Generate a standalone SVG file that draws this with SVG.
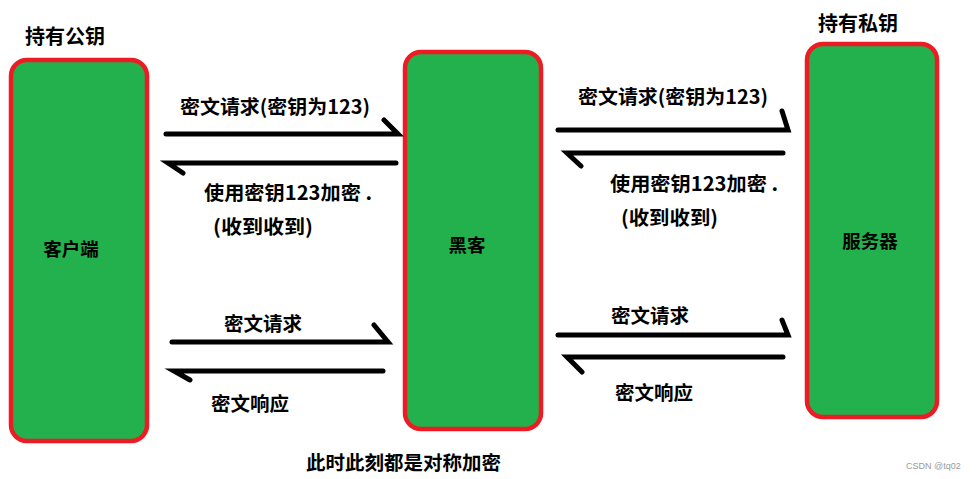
<svg xmlns="http://www.w3.org/2000/svg" width="979" height="479" viewBox="0 0 979 479">
<style>
.box{fill:#22b14c;stroke:#ed1c24;stroke-width:4.5}
.t{font-family:"Microsoft YaHei","Noto Sans CJK SC",sans-serif;font-weight:bold;fill:#000}
.l{font-size:19.5px}
.n{font-size:18.5px}
.h{font-size:20px}
.c{stroke:#000;stroke-width:5;stroke-linecap:round;fill:none}
</style>
<rect width="979" height="479" fill="#fff"/>
<g id="client">
<rect class="box" x="11" y="60" width="136" height="381" rx="16"/>
<text class="t n" x="71" y="256" text-anchor="middle">客户端</text>
</g>
<g id="hacker">
<rect class="box" x="405" y="52" width="136" height="377" rx="16"/>
<text class="t n" x="467" y="252" text-anchor="middle">黑客</text>
</g>
<g id="server">
<rect class="box" x="807" y="44" width="130" height="373" rx="16"/>
<text class="t n" x="870" y="248" text-anchor="middle">服务器</text>
</g>
<g id="labels">
<text class="t h" x="25" y="44">持有公钥</text>
<text class="t h" x="818" y="31">持有私钥</text>
<text class="t l" x="306" y="470">此时此刻都是对称加密</text>
<text x="906" y="469" font-family="Liberation Sans,sans-serif" font-size="9" fill="#999">CSDN @tq02</text>
</g>
<g id="connectors">
<path class="c" d="M166 134H398L384 120"/>
<path class="c" d="M396 163H168L183 173"/>
<path class="c" d="M558 130H788L782 111"/>
<path class="c" d="M783 153H567L581 166"/>
<path class="c" d="M172 342H388L374 325"/>
<path class="c" d="M383 371H174L190 380"/>
<path class="c" d="M558 335H788L782 320"/>
<path class="c" d="M783 357H567L582 372"/>
<text class="t l" x="180" y="114" textLength="190" lengthAdjust="spacingAndGlyphs">密文请求(密钥为123)</text>
<text class="t l" x="204" y="200" textLength="168" lengthAdjust="spacingAndGlyphs">使用密钥123加密 .</text>
<text class="t l" x="213" y="234" textLength="100" lengthAdjust="spacingAndGlyphs">(收到收到)</text>
<text class="t l" x="578" y="104" textLength="190" lengthAdjust="spacingAndGlyphs">密文请求(密钥为123)</text>
<text class="t l" x="610" y="191" textLength="168" lengthAdjust="spacingAndGlyphs">使用密钥123加密 .</text>
<text class="t l" x="621" y="225" textLength="97" lengthAdjust="spacingAndGlyphs">(收到收到)</text>
<text class="t l" x="224" y="331">密文请求</text>
<text class="t l" x="211" y="411">密文响应</text>
<text class="t l" x="611" y="323">密文请求</text>
<text class="t l" x="615" y="400">密文响应</text>
</g>
</svg>
